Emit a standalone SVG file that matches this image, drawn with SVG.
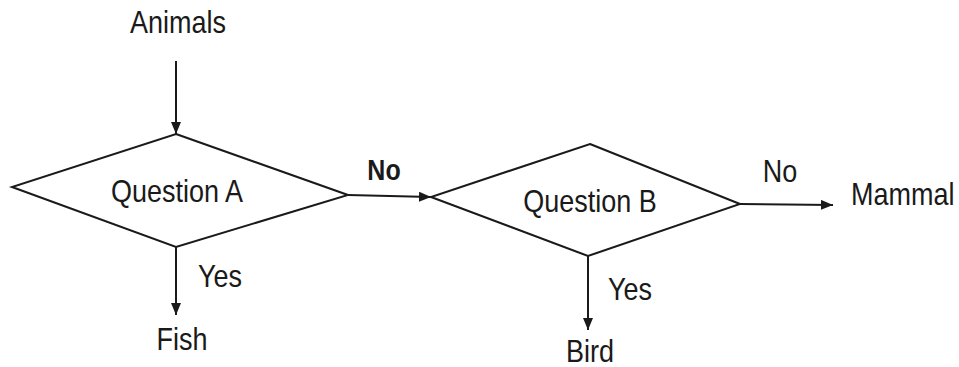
<svg xmlns="http://www.w3.org/2000/svg" width="959" height="367" viewBox="0 0 959 367">
<style>
text{font-family:"Liberation Sans",Arial,sans-serif;font-size:27px;fill:#1a1a1a}
.b{font-weight:bold;font-size:25px}
.shape{fill:#fff;stroke:#1a1a1a;stroke-width:2}
.conn{fill:none;stroke:#1a1a1a;stroke-width:2}
</style>
<defs>
<marker id="ah" viewBox="0 0 12 10" refX="12" refY="5" markerWidth="12" markerHeight="10" markerUnits="userSpaceOnUse" orient="auto">
<path d="M0,0 L12,5 L0,10 Z" fill="#1a1a1a"/>
</marker>
</defs>
<rect width="959" height="367" fill="#fff"/>
<g id="connectors">
<line class="conn" x1="176" y1="61" x2="176" y2="134" marker-end="url(#ah)"/>
<line class="conn" x1="348" y1="195" x2="431" y2="197" marker-end="url(#ah)"/>
<line class="conn" x1="740" y1="204" x2="833" y2="205" marker-end="url(#ah)"/>
<line class="conn" x1="176" y1="247" x2="176" y2="315" marker-end="url(#ah)"/>
<line class="conn" x1="588" y1="256" x2="588" y2="330" marker-end="url(#ah)"/>
<text class="b" transform="translate(384,180) scale(1,1.15)" text-anchor="middle">No</text>
<text transform="translate(780,182) scale(1,1.15)" text-anchor="middle">No</text>
<text transform="translate(198,287) scale(1,1.15)">Yes</text>
<text transform="translate(608,300) scale(1,1.15)">Yes</text>
</g>
<g id="animals"><text transform="translate(178,33) scale(1,1.15)" text-anchor="middle">Animals</text></g>
<g id="questionA">
<polygon class="shape" points="176,134 348,195 176,247 12,187"/>
<text transform="translate(177,202) scale(1,1.15)" text-anchor="middle">Question A</text>
</g>
<g id="questionB">
<polygon class="shape" points="590,144 740,204 588,256 431,197"/>
<text transform="translate(590,212) scale(1,1.15)" text-anchor="middle">Question B</text>
</g>
<g id="mammal"><text transform="translate(851,205) scale(1,1.15)">Mammal</text></g>
<g id="fish"><text transform="translate(182,350) scale(1,1.15)" text-anchor="middle">Fish</text></g>
<g id="bird"><text transform="translate(590,362) scale(1,1.15)" text-anchor="middle">Bird</text></g>
</svg>
